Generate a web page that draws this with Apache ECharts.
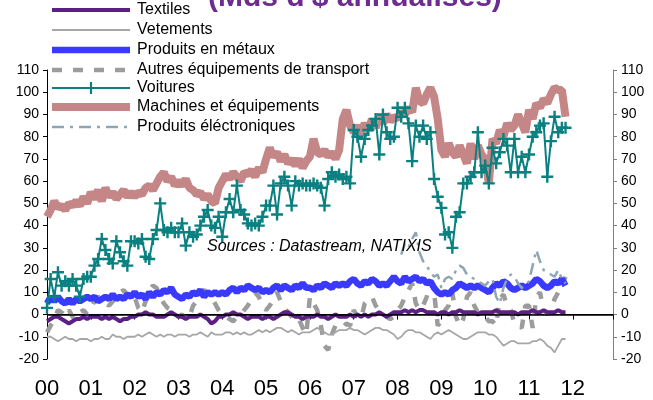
<!DOCTYPE html>
<html>
<head>
<meta charset="utf-8">
<script src="https://cdn.jsdelivr.net/npm/echarts@6/dist/echarts.min.js"></script>
<style>
  html, body { margin: 0; padding: 0; background: #fff; }
  #chart { width: 653px; height: 400px; }
</style>
</head>
<body>
<div id="chart"></div>
<script>
// monthly values, Jan 2000 -> Nov 2011 (Mds $ annualised)
const YEAR_TICKS = ['00','01','02','03','04','05','06','07','08','09','10','11','12'];

const textiles = [
  -3,-2,-1,-1,-2,-3,-4,-3,-2,-2,-1,-2,
  -1,-1,-1,-2,-1,-2,-1,-2,-3,-2,-2,-1,
  -1,0,0,1,0,0,-1,-1,-1,0,1,0,
  -1,-1,-2,-1,-1,-1,0,-1,-2,-4,-3,-1,
  -1,0,0,1,0,0,-1,-2,-1,-1,-1,-2,
  -1,-1,-2,-1,0,1,1,0,-1,-1,-2,-1,
  -1,-1,0,-1,-1,-2,-1,0,-1,-1,-1,0,
  -1,0,-1,0,-1,0,0,1,0,-1,0,1,
  1,1,2,1,2,1,2,2,1,1,1,0,
  1,1,0,1,1,2,1,1,1,1,0,1,
  1,1,1,2,1,1,1,1,1,0,1,1,
  1,2,1,1,2,1,1,1,2,1,1
];
const vetements = [
  -10,-10,-11,-12,-11,-10,-11,-11,-12,-11,-11,-11,
  -12,-11,-11,-10,-11,-11,-9,-10,-10,-11,-10,-10,
  -10,-9,-10,-9,-8,-9,-10,-9,-10,-9,-9,-10,
  -9,-9,-9,-10,-9,-9,-8,-9,-10,-8,-9,-9,
  -9,-8,-8,-9,-8,-9,-8,-9,-9,-8,-7,-8,
  -7,-8,-7,-6,-6,-7,-8,-7,-8,-9,-8,-8,
  -8,-7,-6,-7,-8,-9,-9,-8,-7,-7,-7,-6,
  -7,-7,-8,-9,-8,-7,-6,-6,-7,-7,-8,-9,
  -11,-10,-8,-7,-7,-8,-8,-9,-10,-11,-9,-8,
  -9,-8,-7,-8,-9,-10,-11,-11,-10,-9,-8,-8,
  -8,-9,-9,-10,-12,-14,-13,-12,-12,-13,-13,-13,
  -13,-12,-12,-11,-12,-14,-15,-17,-14,-11,-11
];
const metaux = [
  5,8,6,8,6,5,7,5,7,6,7,8,
  7,8,6,7,8,7,9,7,8,7,9,8,
  10,8,9,7,10,8,10,9,11,10,12,9,
  8,7,9,8,10,9,11,8,10,9,10,9,
  10,9,11,12,10,12,11,13,12,11,12,10,
  11,10,12,13,11,13,12,11,13,12,14,12,
  12,11,13,12,14,13,12,14,13,14,13,15,
  16,14,13,15,14,16,15,13,14,13,15,17,
  15,14,17,15,16,17,15,16,14,15,12,10,
  9,10,9,11,12,14,13,12,13,12,13,12,
  11,10,12,14,13,15,14,12,11,12,13,12,
  13,14,16,15,13,12,13,15,14,16,13
];
const autresTransport = [
  -8,-5,-2,2,1,-1,2,-1,-2,1,2,0,
  3,6,8,7,5,4,6,8,10,11,9,10,
  8,3,1,6,11,13,12,8,5,3,2,1,
  -1,0,-2,-1,4,6,9,11,10,8,5,2,
  0,-1,-2,-3,-1,0,2,4,7,10,8,4,
  2,4,7,10,6,3,1,-1,-3,-2,-6,-9,
  8,5,2,-5,-14,-16,-9,-5,-5,-6,-4,-5,
  2,-1,-2,5,7,8,4,2,1,-1,-2,-1,
  2,4,8,11,14,5,2,4,8,15,10,-5,
  -3,2,4,10,-1,-5,-2,8,10,4,1,-1,
  -1,-3,-3,-5,7,9,4,2,-4,-5,-6,4,
  4,-6,8,10,2,0,2,7,10,13,17
];
const voitures = [
  3,16,8,19,13,15,13,16,13,8,16,17,
  17,22,25,34,29,25,23,33,28,24,22,33,
  33,32,34,26,25,34,38,50,38,37,39,37,
  37,41,31,37,35,36,40,44,47,40,39,44,
  35,46,52,46,58,47,45,41,40,41,40,44,
  49,49,58,45,59,62,58,49,60,58,59,58,
  58,59,58,57,49,61,64,62,63,61,62,59,
  83,80,71,79,83,85,88,72,90,82,79,80,
  93,89,93,86,69,85,80,85,79,82,61,53,
  48,36,37,30,44,46,59,59,62,64,82,64,
  67,59,75,68,73,79,76,64,79,64,71,64,
  72,80,82,85,86,62,78,89,82,84,84
];
const machines = [
  44,47,51,48,49,47,50,49,51,49,53,50,
  55,52,56,51,57,53,55,52,54,56,53,55,
  53,55,54,57,58,56,59,62,64,60,62,58,
  60,58,61,57,56,54,55,52,54,51,50,57,
  60,63,61,64,62,60,64,63,65,62,66,64,
  70,75,71,73,69,72,68,70,67,70,66,69,
  71,79,73,72,74,71,73,70,74,88,92,85,
  82,85,81,86,83,88,84,89,86,90,87,89,
  88,91,90,93,91,102,96,95,99,102,98,88,
  74,71,77,73,71,76,72,68,77,70,76,72,
  70,59,79,77,83,80,86,83,85,90,86,82,
  92,88,95,93,97,95,99,102,101,101,89
];
// electronics series only starts in Feb 2008 (month 97)
const ELECTRO_START = 97;
const electroniques = [
  27,32,30,34,37,28,24,22,19,17,18,
  12,16,17,16,20,22,21,18,17,16,15,14,
  13,15,16,8,5,12,16,18,17,14,12,13,
  15,22,29,24,20,19,18,17,20,16,14
];

const FONT = '"Liberation Sans", Arial, sans-serif';
const PLUS = 'path://M4,0H6V4H10V6H6V10H4V6H0V4H4Z';

function pairs(arr, start) {
  return arr.map((v, i) => [(start || 0) + i, v]);
}

// series in legend order
const SERIES = [
  { name: 'Textiles', data: pairs(textiles), color: '#5b1f85', width: 4, type: 'solid', z: 4 },
  { name: 'Vetements', data: pairs(vetements), color: '#a6a6a6', width: 1.8, type: 'solid', z: 4 },
  { name: 'Produits en métaux', data: pairs(metaux), color: '#3a3aff', width: 6.5, type: 'solid', z: 3 },
  { name: 'Autres équipements de transport', data: pairs(autresTransport), color: '#9c9c9c', width: 4.5, type: [10, 11], z: 2 },
  { name: 'Voitures', data: pairs(voitures), color: '#0a8080', width: 2, type: 'solid', z: 6, plus: true },
  { name: 'Machines et équipements', data: pairs(machines), color: '#c48686', width: 8, type: 'solid', z: 2 },
  { name: 'Produits éléctroniques', data: pairs(electroniques, ELECTRO_START), color: '#8ea6b4', width: 2.5, type: [12, 6, 3, 6], z: 5 }
];

const chart = echarts.init(document.getElementById('chart'), null, { renderer: 'canvas' });

const series = SERIES.map((s, i) => {
  const o = {
    name: s.name,
    type: 'line',
    data: s.data,
    z: s.z,
    animation: false,
    symbol: s.plus ? PLUS : 'none',
    symbolSize: 12,
    showAllSymbol: true,
    itemStyle: { color: s.color },
    lineStyle: { color: s.color, width: s.width, type: s.type }
  };
  if (i === 0) {
    o.markLine = {
      silent: true,
      symbol: 'none',
      label: { show: false },
      lineStyle: { color: '#000', width: 1.5, type: 'solid' },
      data: [{ yAxis: 0 }]
    };
  }
  return o;
});

// hand-drawn legend block (top left), like the original
const LEG_X0 = 52, LEG_X1 = 130, LEG_TX = 137;
const LEG_Y = [10, 30, 50, 70, 88, 107, 127];
const legend = [];
SERIES.forEach((s, i) => {
  const y = LEG_Y[i];
  legend.push({
    type: 'line', z: 10,
    shape: { x1: LEG_X0, y1: y, x2: LEG_X1, y2: y },
    style: { stroke: s.color, lineWidth: s.width, lineDash: s.type === 'solid' ? null : s.type }
  });
  if (s.plus) {
    const cx = (LEG_X0 + LEG_X1) / 2;
    legend.push({
      type: 'line', z: 11,
      shape: { x1: cx, y1: y - 6, x2: cx, y2: y + 6 },
      style: { stroke: s.color, lineWidth: 2.2 }
    });
  }
  legend.push({
    type: 'text', z: 10, x: LEG_TX, y: y,
    style: { text: s.name, font: '16px ' + FONT, fill: '#000', verticalAlign: 'middle' }
  });
});

chart.setOption({
  backgroundColor: '#fff',
  animation: false,
  grid: { left: 47, right: 40, top: 70, bottom: 40, containLabel: false },
  xAxis: {
    type: 'value', min: 0, max: 155, interval: 12,
    axisLine: { lineStyle: { color: '#000', width: 1 } },
    axisTick: { length: 5, lineStyle: { color: '#000' } },
    splitLine: { show: false },
    axisLabel: {
      margin: 19, color: '#000', fontFamily: FONT, fontSize: 22,
      formatter: v => (v % 12 === 0 ? YEAR_TICKS[v / 12] : '')
    }
  },
  yAxis: [
    {
      type: 'value', min: -20, max: 110, interval: 10, position: 'left',
      axisLine: { show: true, lineStyle: { color: '#000' } },
      axisTick: { show: true, length: 4, lineStyle: { color: '#000' } },
      splitLine: { show: false },
      axisLabel: { margin: 8, color: '#000', fontFamily: FONT, fontSize: 14 }
    },
    {
      type: 'value', min: -20, max: 110, interval: 10, position: 'right',
      axisLine: { show: true, lineStyle: { color: '#808080' } },
      axisTick: { show: true, length: 4, lineStyle: { color: '#808080' } },
      splitLine: { show: false },
      axisLabel: { margin: 8, color: '#000', fontFamily: FONT, fontSize: 14 }
    }
  ],
  graphic: legend.concat([
    {
      type: 'text', z: 10, x: 208, y: -2,
      style: { text: "(Mds d'$ annualisés)", font: 'bold 30px ' + FONT, fill: '#6c2c90', verticalAlign: 'middle' }
    },
    {
      type: 'text', z: 10, x: 207, y: 247,
      style: { text: 'Sources : Datastream, NATIXIS', font: 'italic 16px ' + FONT, fill: '#000', verticalAlign: 'middle' }
    }
  ]),
  series: series
});
</script>
</body>
</html>
